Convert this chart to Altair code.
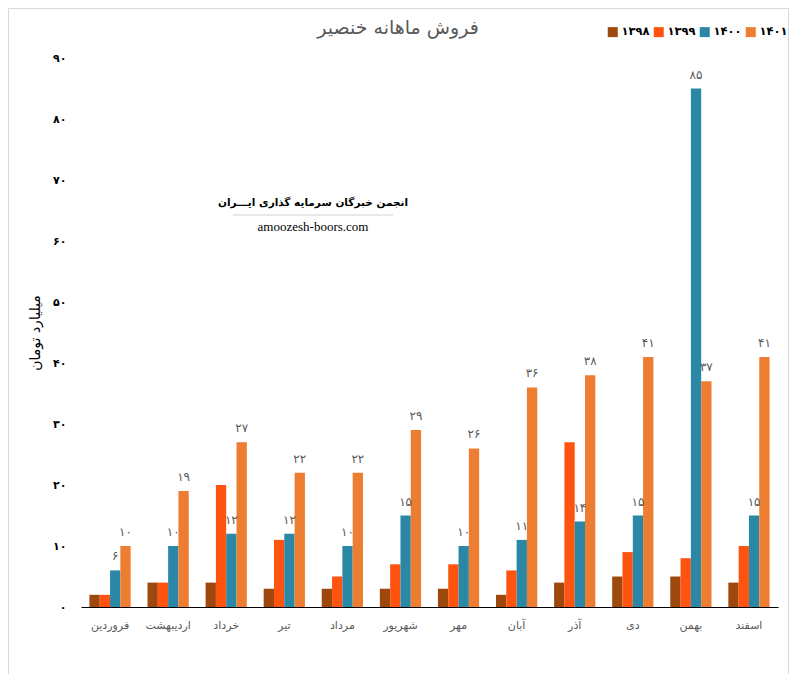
import altair as alt
import pandas as pd

months = ["فروردین", "اردیبهشت", "خرداد", "تیر", "مرداد", "شهریور",
          "مهر", "آبان", "آذر", "دی", "بهمن", "اسفند"]
years = ["۱۳۹۸", "۱۳۹۹", "۱۴۰۰", "۱۴۰۱"]
s1398 = [2, 4, 4, 3, 3, 3, 3, 2, 4, 5, 5, 4]
s1399 = [2, 4, 20, 11, 5, 7, 7, 6, 27, 9, 8, 10]
s1400 = [6, 10, 12, 12, 10, 15, 10, 11, 14, 15, 85, 15]
s1401 = [10, 19, 27, 22, 22, 29, 26, 36, 38, 41, 37, 41]
labelled = ["۱۴۰۰", "۱۴۰۱"]
colors = ["#9E480E", "#FF5310", "#2A87A6", "#ED7D31"]
y_ticks = [0, 10, 20, 30, 40, 50, 60, 70, 80, 90]

title_text = "فروش ماهانه خنصیر"
y_title = "میلیارد تومان"
wm1 = "انجمن خبرگان سرمایه گذاری ایـــران"
wm2 = "amoozesh-boors.com"

fa = "۰۱۲۳۴۵۶۷۸۹"
to_fa = str.maketrans("0123456789", fa)

rows = []
for yr, ser in zip(years, [s1398, s1399, s1400, s1401]):
    for m, v in zip(months, ser):
        rows.append({"month": m, "year": yr, "value": v, "label": str(v).translate(to_fa)})
df = pd.DataFrame(rows)

expr = "datum.label"
for d in range(10):
    expr = f"replace({expr}, regexp('{d}', 'g'), '{fa[d]}')"

FONT = "DejaVu Sans"

x_enc = alt.X("month:N", sort=months,
              scale=alt.Scale(paddingInner=0.29, paddingOuter=0.145),
              axis=alt.Axis(title=None, labelAngle=0, ticks=False, domain=True,
                            domainColor="#000000", domainWidth=1,
                            labelColor="#595959", labelFontSize=11, labelFont=FONT,
                            labelPadding=12))
xo_enc = alt.XOffset("year:N", sort=years, scale=alt.Scale(paddingInner=0, paddingOuter=0))
y_enc = alt.Y("value:Q", scale=alt.Scale(domain=[0, 90], nice=False),
              axis=alt.Axis(title=y_title, values=y_ticks, labelExpr=expr, grid=False,
                            domain=False, ticks=False, labelFontWeight="bold",
                            labelColor="#000000", labelFontSize=11, labelFont=FONT,
                            labelPadding=15, titleFont=FONT, titleFontSize=14,
                            titleFontWeight="normal", titleColor="#000000",
                            titlePadding=10))

bars = alt.Chart(df).mark_bar().encode(
    x=x_enc, xOffset=xo_enc, y=y_enc,
    color=alt.Color("year:N", sort=years,
                    scale=alt.Scale(domain=years, range=colors),
                    legend=alt.Legend(title=None, orient="none", legendX=526, legendY=-32,
                                      direction="horizontal", symbolType="square",
                                      symbolSize=100, symbolStrokeWidth=0,
                                      labelFontSize=11.5, labelFontWeight="bold",
                                      labelFont=FONT, labelColor="#000000",
                                      columnPadding=3, labelOffset=3)),
)

labels = alt.Chart(df).transform_filter(
    alt.FieldOneOfPredicate(field="year", oneOf=labelled)
).mark_text(baseline="bottom", dy=-7, fontSize=12, color="#595959", font=FONT).encode(
    x=alt.X("month:N", sort=months), xOffset=alt.XOffset("year:N", sort=years),
    y="value:Q", text="label:N",
)

one = pd.DataFrame({"t": [title_text]})

title = alt.Chart(one).mark_text(
    fontSize=19, font=FONT, color="#595959"
).encode(text="t:N", x=alt.value(317), y=alt.value(-30))

wm_top = alt.Chart(pd.DataFrame({"t": [wm1]})).mark_text(
    fontSize=10.5, fontWeight="bold", font=FONT, color="#000000"
).encode(text="t:N", x=alt.value(232), y=alt.value(145))

wm_line = alt.Chart(one).mark_rule(
    color="#d0d0d0", strokeWidth=1
).encode(x=alt.value(152), x2=alt.value(312), y=alt.value(157))

wm_bot = alt.Chart(pd.DataFrame({"t": [wm2]})).mark_text(
    fontSize=13, font="Liberation Serif", color="#000000"
).encode(text="t:N", x=alt.value(232), y=alt.value(169))

border = alt.Chart(one).mark_rect(
    fillOpacity=0, stroke="#d9d9d9", strokeWidth=1
).encode(x=alt.value(-72.5), x2=alt.value(707.5), y=alt.value(-49.5), y2=alt.value(618.5))

chart = alt.layer(border, bars, labels, title, wm_top, wm_line, wm_bot).properties(
    width=697, height=549,
    padding={"left": 73, "top": 50, "right": 11, "bottom": 67},
    autosize=alt.AutoSizeParams(type="none"),
).configure_view(stroke=None)

chart.save("out.html", embed_options={"renderer": "svg", "actions": False})
